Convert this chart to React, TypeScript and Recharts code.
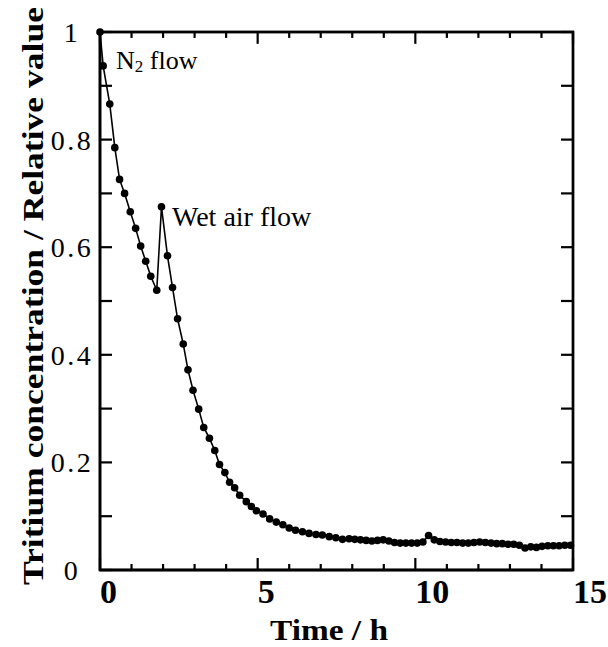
import React from "react";
import { Line, LineChart, ReferenceArea, ReferenceLine, XAxis, YAxis } from "recharts";

// elapsed time (h) and relative tritium concentration
const TIME = [
  0, 0.1, 0.31, 0.47, 0.62, 0.78, 0.96, 1.13, 1.29, 1.45, 1.61, 1.8, 1.95,
  2.14, 2.3, 2.46, 2.64, 2.79, 2.95, 3.13, 3.29, 3.47, 3.64, 3.79, 3.96, 4.11,
  4.27, 4.43, 4.64, 4.8, 4.96, 5.17, 5.38, 5.59, 5.8, 6.0, 6.2, 6.42, 6.63,
  6.85, 7.05, 7.27, 7.48, 7.69, 7.9, 8.08, 8.26, 8.44, 8.62, 8.8, 8.98, 9.16,
  9.34, 9.52, 9.7, 9.88, 10.06, 10.24, 10.42, 10.6, 10.78, 10.96, 11.14,
  11.32, 11.5, 11.68, 11.86, 12.04, 12.22, 12.4, 12.58, 12.76, 12.94, 13.12,
  13.3, 13.48, 13.66, 13.84, 14.02, 14.2, 14.38, 14.56, 14.74, 14.92,
];
const CONC = [
  1.0, 0.937, 0.866, 0.785, 0.726, 0.7, 0.666, 0.635, 0.602, 0.574, 0.546,
  0.52, 0.675, 0.584, 0.525, 0.467, 0.42, 0.372, 0.334, 0.299, 0.265, 0.245,
  0.222, 0.196, 0.181, 0.163, 0.153, 0.139, 0.127, 0.118, 0.11, 0.104, 0.095,
  0.089, 0.084, 0.078, 0.074, 0.071, 0.068, 0.066, 0.065, 0.062, 0.06, 0.057,
  0.058, 0.057, 0.056, 0.055, 0.054, 0.055, 0.056, 0.054, 0.051, 0.05, 0.05,
  0.05, 0.05, 0.052, 0.064, 0.056, 0.053, 0.052, 0.051, 0.051, 0.05, 0.05,
  0.051, 0.052, 0.051, 0.05, 0.049, 0.049, 0.048, 0.048, 0.046, 0.041, 0.043,
  0.042, 0.044, 0.045, 0.045, 0.045, 0.046, 0.046,
];

const X_TICKS = [0, 1, 2, 3, 4, 5, 6, 7, 8, 9, 10, 11, 12, 13, 14, 15];
const X_LABELS = [0, 5, 10, 15];
const Y_TICKS = [0, 0.1, 0.2, 0.3, 0.4, 0.5, 0.6, 0.7, 0.8, 0.9, 1];
const Y_LABELS = ["0", "0.2", "0.4", "0.6", "0.8", "1"];

const data = TIME.map((t, i) => ({ t, c: CONC[i] }));

const SERIF = "'Liberation Serif', 'Times New Roman', serif";
const INK = "#000";
const FRAME_W = 2.4;
const TICK_W = 2.2;
// inward tick lengths on the mirrored top/right sides, in axis units
const TOP_MAJOR = 0.022;
const TOP_MINOR = 0.011;
const RIGHT_LEN = 0.38;

const BottomTick = (props: any) => {
  const x = Number(props.x);
  const y = Number(props.y);
  const v = props.payload.value;
  const major = X_LABELS.includes(v);
  return (
    <g>
      <path d={`M${x},${y}V${y - (major ? 12 : 6)}`} stroke={INK} strokeWidth={TICK_W} fill="none" />
      {major && (
        <text x={x} y={y + 33} textAnchor="start" fontFamily={SERIF} fontWeight="bold" fontSize={34} fill={INK}>
          {v}
        </text>
      )}
    </g>
  );
};

const LeftTick = (props: any) => {
  const x = Number(props.x);
  const y = Number(props.y);
  const label = String(Math.round(props.payload.value * 10) / 10);
  return (
    <g>
      <path d={`M${x},${y}H${x + 12}`} stroke={INK} strokeWidth={TICK_W} fill="none" />
      {Y_LABELS.includes(label) && (
        <text x={x - 28} y={y + 10} textAnchor="middle" fontFamily={SERIF} fontSize={28} letterSpacing={2.5} fill={INK}>
          {label}
        </text>
      )}
    </g>
  );
};

// annotations, axis titles and the plot frame, laid over the chart
const Notes = () => (
  <svg
    width={608}
    height={647}
    style={{ position: "absolute", left: 0, top: 0, pointerEvents: "none" }}
  >
    <rect x={100} y={32} width={473} height={538} fill="none" stroke={INK} strokeWidth={2.4} />
    <g fontFamily={SERIF} fill={INK}>
      <text x={116} y={69} fontSize={26}>
        N<tspan fontSize={17} dy={3}>2</tspan>
        <tspan dy={-3}> flow</tspan>
      </text>
      <text x={172} y={226} fontSize={28}>
        Wet air flow
      </text>
      <text x={270} y={640} fontSize={30} fontWeight="bold" textLength={118} lengthAdjust="spacingAndGlyphs">
        Time /  h
      </text>
      <text
        transform="translate(43, 296) rotate(-90)"
        textAnchor="middle"
        fontSize={29}
        fontWeight="bold"
        textLength={578}
        lengthAdjust="spacingAndGlyphs"
      >
        Tritium concentration / Relative value
      </text>
    </g>
  </svg>
);

export default function App() {
  return (
    <div style={{ position: "absolute", left: 0, top: 0, width: 608, height: 647, background: "#fff" }}>
      <LineChart
        width={608}
        height={647}
        data={data}
        margin={{ top: 32, right: 35, bottom: 0, left: 0 }}
      >
        <XAxis
          dataKey="t"
          type="number"
          domain={[0, 15]}
          ticks={X_TICKS}
          interval={0}
          height={77}
          tickSize={0}
          tickMargin={0}
          tick={BottomTick}
          axisLine={{ stroke: INK, strokeWidth: FRAME_W }}
        />
        <YAxis
          type="number"
          domain={[0, 1]}
          ticks={Y_TICKS}
          interval={0}
          width={100}
          tickSize={0}
          tickMargin={0}
          tick={LeftTick}
          axisLine={{ stroke: INK, strokeWidth: FRAME_W }}
        />
        <ReferenceArea
          x1={0}
          x2={15}
          y1={0}
          y2={1}
          fill="none"
          stroke={INK}
          strokeWidth={FRAME_W}
          ifOverflow="visible"
        />
        {X_TICKS.map((t) => (
          <ReferenceLine
            key={`top-${t}`}
            segment={[
              { x: t, y: 1 },
              { x: t, y: 1 - (X_LABELS.includes(t) ? TOP_MAJOR : TOP_MINOR) },
            ]}
            stroke={INK}
            strokeWidth={TICK_W}
            ifOverflow="visible"
          />
        ))}
        {Y_TICKS.map((v) => (
          <ReferenceLine
            key={`right-${v}`}
            segment={[
              { x: 15, y: v },
              { x: 15 - RIGHT_LEN, y: v },
            ]}
            stroke={INK}
            strokeWidth={TICK_W}
            ifOverflow="visible"
          />
        ))}
        <Line
          dataKey="c"
          type="linear"
          stroke={INK}
          strokeWidth={1.6}
          dot={{ r: 3.8, fill: INK, stroke: INK, strokeWidth: 0 }}
          activeDot={false}
          isAnimationActive={false}
        />
      </LineChart>
      <Notes />
    </div>
  );
}
